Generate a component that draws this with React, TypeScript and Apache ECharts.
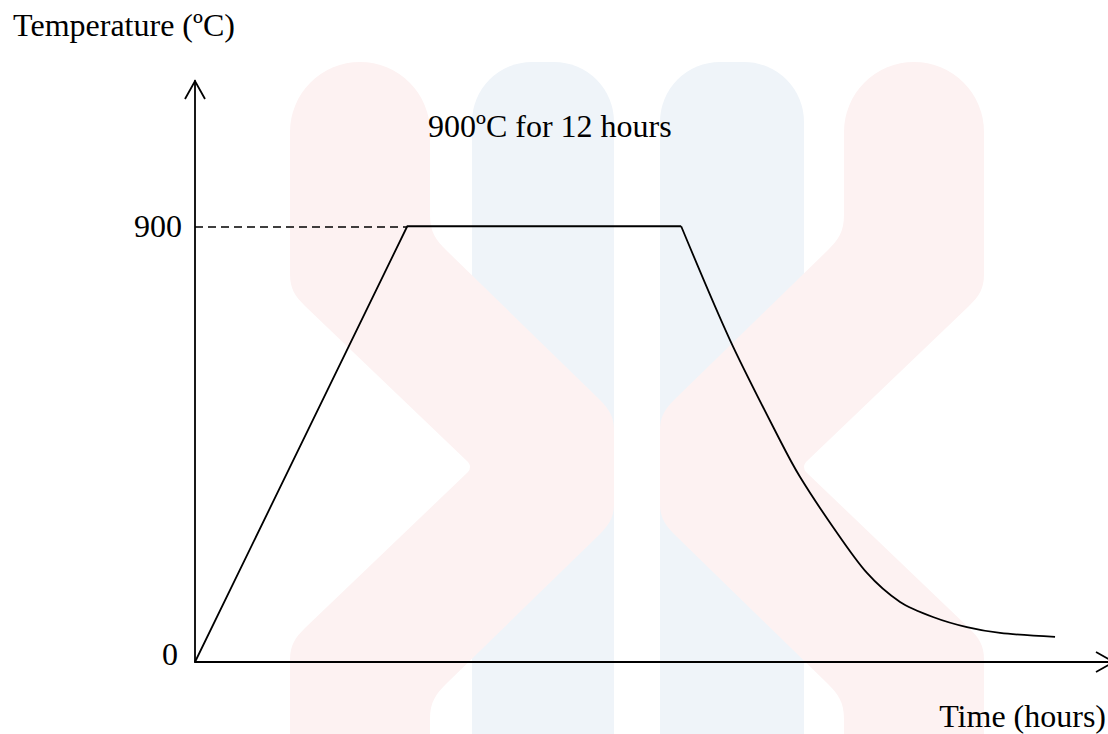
import React, { useEffect, useRef } from "react";
import * as echarts from "echarts";

// Heat-treatment profile (hours, ºC): ramp up and soak, then furnace cooling
const rampTime = [0, 9.3, 21.3];
const rampTemp = [0, 900, 900];
const coolTime = [21.3, 23.44, 25.63, 26.51, 27.95, 29.44, 30.89, 32.33, 33.82, 35.27, 37.68];
const coolTemp = [900, 665, 458, 382, 279, 184, 124, 93, 72, 60, 52];
const yTickValues = [0, 900];
const soakTemp = 900;
const soakHours = 12;

const X_MAX = 40;
const Y_MAX = 1200;
const FONT = "'Liberation Serif', 'Times New Roman', serif";

// Background emblem: a ribbon that bends from an outer column into an inner one and back
const RIBBON_D =
  "M290 734 L290 660 C290 645 295 638 305 628 L468 472 Q472 467 468 462 L305 306 " +
  "C295 296 290 289 290 274 L290 132 A70 70 0 0 1 430 132 L430 215 C430 232 436 240 446 250 " +
  "L600 400 C610 410 614 418 614 430 L614 504 C614 516 610 524 600 534 L446 684 " +
  "C436 694 430 702 430 719 L430 734 Z";
echarts.graphic.registerShape("emblemRibbon", echarts.graphic.extendPath(RIBBON_D, {}));

const PINK = "#fdf2f2";
const BLUE = "#eff4f9";

export default function App() {
  const ref = useRef<HTMLDivElement>(null);

  useEffect(() => {
    const el = ref.current;
    if (!el) return;
    const chart = echarts.init(el, null, { renderer: "svg" });

    const rampData = rampTime.map((t, i) => [t, rampTemp[i]]);
    const coolData = coolTime.map((t, i) => [t, coolTemp[i]]);

    chart.setOption({
      animation: false,
      backgroundColor: "#ffffff",
      title: {
        text: soakTemp + "ºC for " + soakHours + " hours",
        left: 423,
        top: 105,
        textStyle: { fontFamily: FONT, fontSize: 32, fontWeight: "normal", color: "#000" },
      },
      grid: { left: 195, right: 0, top: 81, bottom: 72 },
      xAxis: {
        type: "value",
        min: 0,
        max: X_MAX,
        axisLine: { show: true, lineStyle: { color: "#000", width: 1.8 } },
        axisTick: { show: false },
        axisLabel: { show: false },
        splitLine: { show: false },
      },
      yAxis: {
        type: "value",
        min: 0,
        max: Y_MAX,
        axisLine: { show: true, onZero: false, lineStyle: { color: "#000", width: 1.8 } },
        axisTick: { show: false },
        splitLine: { show: false },
        axisLabel: {
          customValues: yTickValues,
          margin: 13,
          fontFamily: FONT,
          fontSize: 32,
          color: "#000",
          formatter: (v: number) => (v === 0 ? "{z|0}" : "{n|" + v + "}"),
          rich: {
            z: { fontFamily: FONT, fontSize: 32, color: "#000", padding: [0, 4, 16, 0] },
            n: { fontFamily: FONT, fontSize: 32, color: "#000" },
          },
        },
        name: "Temperature (ºC)",
        nameLocation: "end",
        nameGap: 56,
        nameTextStyle: {
          fontFamily: FONT,
          fontSize: 32,
          color: "#000",
          align: "center",
          verticalAlign: "middle",
          padding: [0, 142, 0, 0],
        },
      },
      series: [
        {
          type: "line",
          data: rampData,
          showSymbol: false,
          clip: false,
          lineStyle: { color: "#000", width: 1.8 },
          markLine: {
            silent: true,
            symbol: "none",
            label: { show: false },
            lineStyle: { color: "#000", width: 1.5, type: [8, 5] },
            data: [[{ coord: [0, soakTemp] }, { coord: [rampTime[1], soakTemp] }]],
          },
        },
        {
          type: "line",
          data: coolData,
          showSymbol: false,
          clip: false,
          smooth: 0.3,
          lineStyle: { color: "#000", width: 1.8 },
        },
      ],
    });

    const yTop = chart.convertToPixel({ gridIndex: 0 }, [0, Y_MAX]) as number[];
    const xEnd = chart.convertToPixel({ gridIndex: 0 }, [X_MAX, 0]) as number[];
    const tipX = xEnd[0] + 6;

    chart.setOption({
      graphic: [
        {
          type: "rect",
          z: -10,
          silent: true,
          shape: { x: 472, y: 62, width: 142, height: 700, r: [60, 60, 0, 0] },
          style: { fill: BLUE },
        },
        {
          type: "rect",
          z: -10,
          silent: true,
          shape: { x: 660, y: 62, width: 144, height: 700, r: [60, 60, 0, 0] },
          style: { fill: BLUE },
        },
        {
          type: "emblemRibbon",
          z: -9,
          silent: true,
          x: 0,
          y: 0,
          style: { fill: PINK },
        },
        {
          type: "emblemRibbon",
          z: -9,
          silent: true,
          x: 1274,
          y: 0,
          scaleX: -1,
          style: { fill: PINK },
        },
        {
          type: "polyline",
          z: 10,
          silent: true,
          shape: {
            points: [
              [yTop[0] - 10, yTop[1] + 18],
              [yTop[0], yTop[1]],
              [yTop[0] + 10, yTop[1] + 18],
            ],
          },
          style: { stroke: "#000", lineWidth: 1.8, fill: null },
        },
        {
          type: "polyline",
          z: 10,
          silent: true,
          shape: {
            points: [
              [tipX - 18, xEnd[1] - 10],
              [tipX, xEnd[1]],
              [tipX - 18, xEnd[1] + 10],
            ],
          },
          style: { stroke: "#000", lineWidth: 1.8, fill: null },
        },
        {
          type: "text",
          z: 10,
          silent: true,
          x: xEnd[0] - 2,
          y: xEnd[1] + 54,
          style: {
            text: "Time (hours)",
            font: "32px " + FONT,
            fill: "#000",
            align: "right",
            verticalAlign: "middle",
          },
        },
      ],
    });

    return () => chart.dispose();
  }, []);

  return (
    <div
      ref={ref}
      style={{ position: "absolute", left: 0, top: 0, width: 1108, height: 734, background: "#fff" }}
    />
  );
}
